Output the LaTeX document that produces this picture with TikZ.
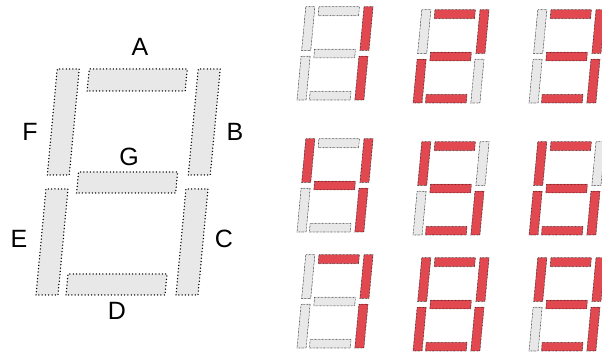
\documentclass[tikz,border=0pt]{standalone}
\usepackage{fontspec}
\setmainfont{Liberation Sans}
\usepackage{xcolor}
\usepackage{tikz}

\definecolor{segred}{RGB}{226,72,80}
\definecolor{seggray}{RGB}{232,232,232}

\tikzset{
  segon/.style={draw=black, fill=segred},
  segoff/.style={draw=black, fill=seggray},
  bigdots/.style={line width=1.5pt, dash pattern=on 0pt off 3.3pt, line cap=round},
  smalldots/.style={line width=0.7pt, dash pattern=on 0pt off 1.4pt, line cap=round},
  seglabel/.style={font=\fontsize{25}{25}\selectfont, inner sep=0pt}
}

% one digit: #1 origin, #2 size style, #3 scale, #4..#9 = A..F, G given by \segG
\newcommand{\sevenseg}[9]{%
  \begin{scope}[shift={#1}, scale=#3, xslant=0.094, #2]
    \draw[seg#4] (32,204) rectangle (130,226);   % A
    \draw[seg#5] (141,120) rectangle (163,226);  % B
    \draw[seg#6] (140,0) rectangle (162,106);    % C
    \draw[seg#7] (30,0) rectangle (129,21);      % D
    \draw[seg#8] (0,0) rectangle (22,106);       % E
    \draw[seg#9] (0,120) rectangle (22,226);     % F
    \draw[seg\segG] (31,102) rectangle (130,123);% G
  \end{scope}}

\begin{document}
\begin{tikzpicture}[x=1pt, y=1pt]
  \useasboundingbox (0,0) rectangle (602,352);

  % parameters
  \def\s{0.413}   % scale of the small digits
  \def\ca{297}    % 1st column
  \def\cb{413}    % 2nd column
  \def\cc{529}    % 3rd column

  % big digit with segment names
  \def\segG{off}
  \sevenseg{(36,57)}{bigdots}{1}{off}{off}{off}{off}{off}{off}
  \node[seglabel] (lblA) at (140,305) {A};
  \node[seglabel] (lblB) at (235,220) {B};
  \node[seglabel] (lblC) at (224,113) {C};
  \node[seglabel] (lblD) at (117,41) {D};
  \node[seglabel] (lblE) at (19,113) {E};
  \node[seglabel] (lblF) at (30,220) {F};
  \node[seglabel] (lblG) at (129,195) {G};

  % 1, 2, 3
  \def\segG{off}
  \sevenseg{(\ca,252)}{smalldots}{\s}{off}{on}{on}{off}{off}{off}
  \def\segG{on}
  \sevenseg{(\cb,249)}{smalldots}{\s}{on}{on}{off}{on}{on}{off}
  \sevenseg{(\cc,249)}{smalldots}{\s}{on}{on}{on}{on}{off}{off}

  % 4, 5, 6
  \sevenseg{(\ca,120)}{smalldots}{\s}{off}{on}{on}{off}{off}{on}
  \sevenseg{(\cb,117)}{smalldots}{\s}{on}{off}{on}{on}{off}{on}
  \sevenseg{(\cc,117)}{smalldots}{\s}{on}{off}{on}{on}{on}{on}

  % 7, 8, 9
  \def\segG{off}
  \sevenseg{(\ca,4)}{smalldots}{\s}{on}{on}{on}{off}{off}{off}
  \def\segG{on}
  \sevenseg{(\cb,1)}{smalldots}{\s}{on}{on}{on}{on}{on}{on}
  \sevenseg{(\cc,1)}{smalldots}{\s}{on}{on}{on}{on}{off}{on}
\end{tikzpicture}
\end{document}
